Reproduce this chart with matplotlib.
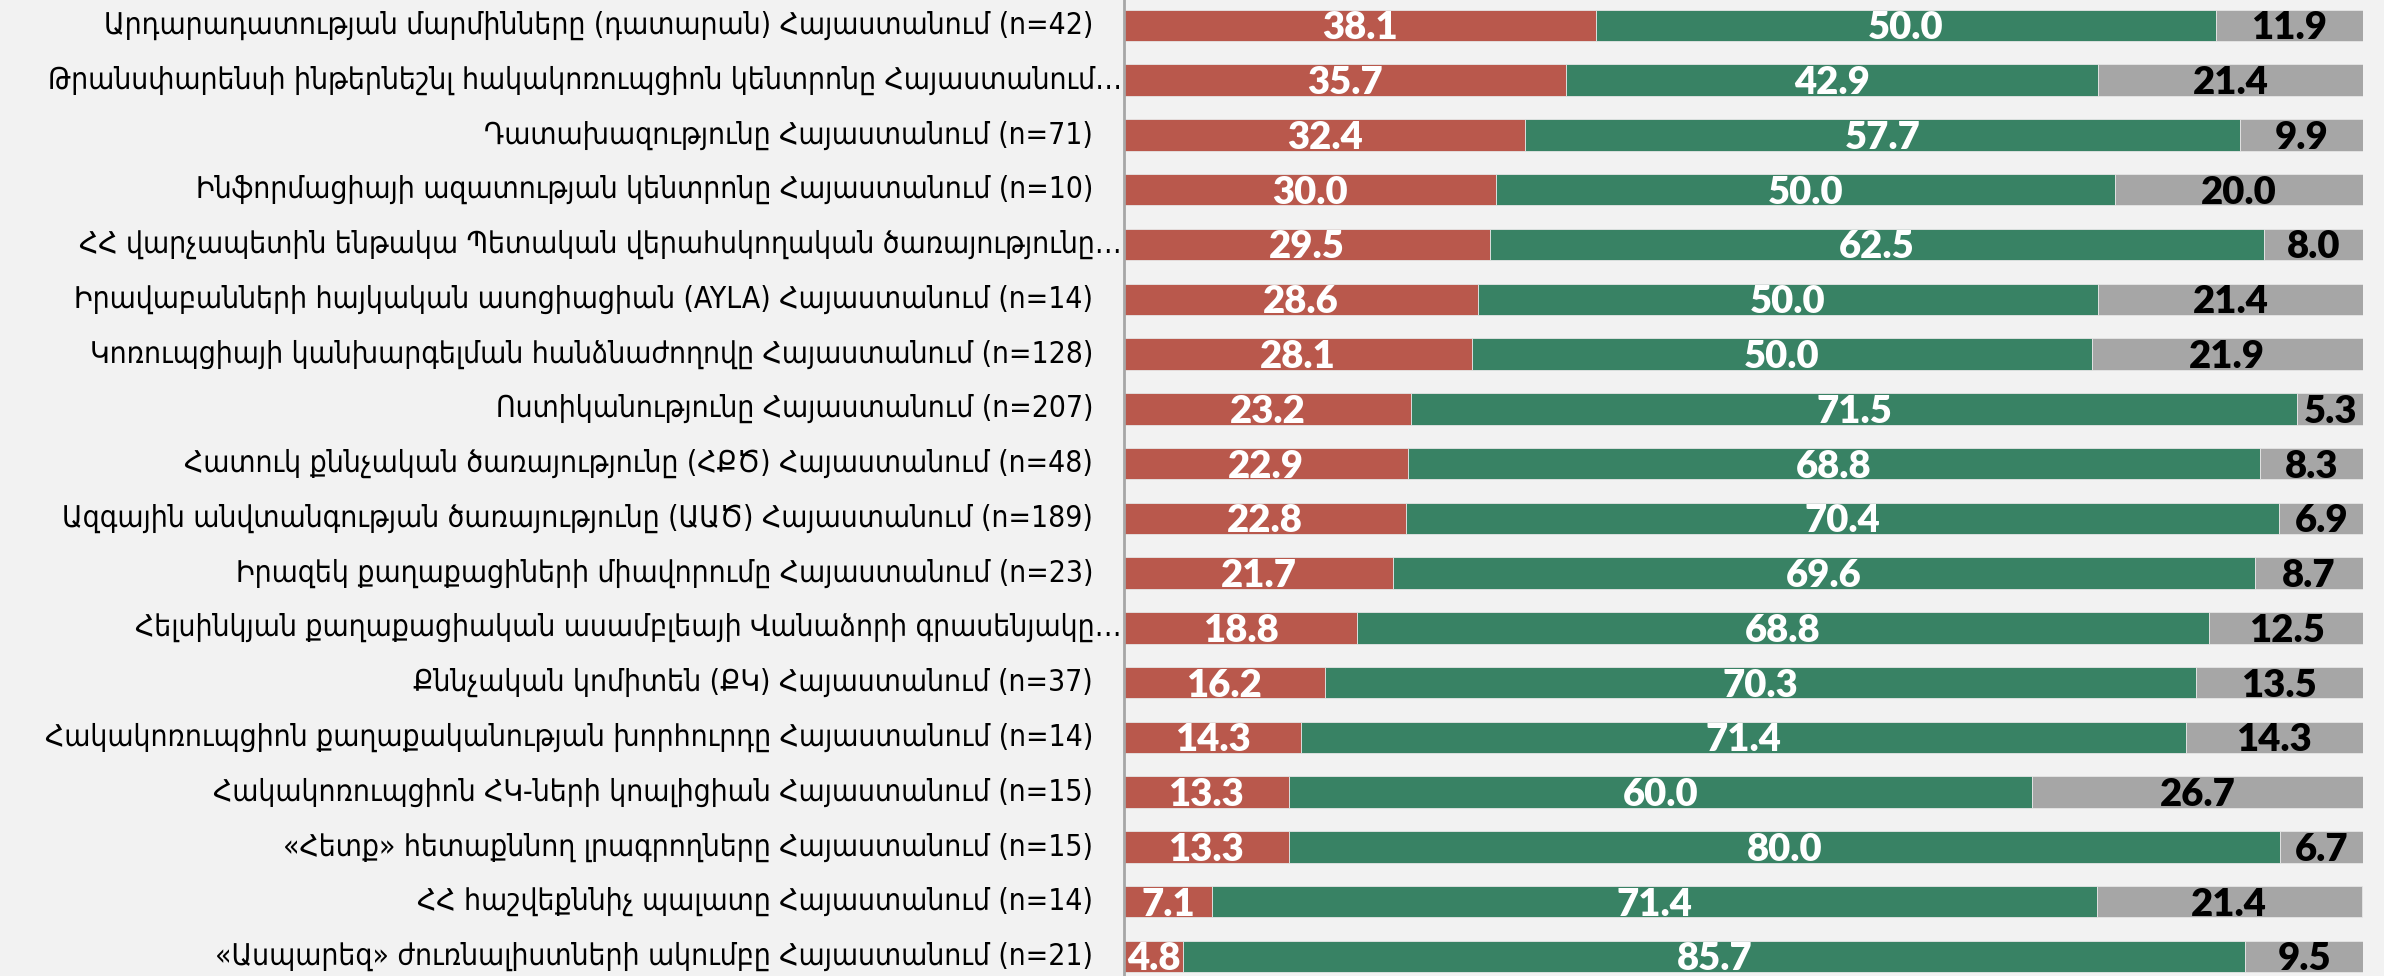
import matplotlib
matplotlib.use("Agg")
import matplotlib.pyplot as plt
import numpy as np

# Labels of the organisations (top to bottom)
labels = [
    "Արդարադատության մարմինները (դատարան) Հայաստանում (n=42)",
    "Թրանսփարենսի ինթերնեշնլ հակակոռուպցիոն կենտրոնը Հայաստանում…",
    "Դատախազությունը Հայաստանում (n=71)",
    "Ինֆորմացիայի ազատության կենտրոնը Հայաստանում (n=10)",
    "ՀՀ վարչապետին ենթակա Պետական վերահսկողական ծառայությունը…",
    "Իրավաբանների հայկական ասոցիացիան (AYLA) Հայաստանում (n=14)",
    "Կոռուպցիայի կանխարգելման հանձնաժողովը Հայաստանում (n=128)",
    "Ոստիկանությունը Հայաստանում (n=207)",
    "Հատուկ քննչական ծառայությունը (ՀՔԾ) Հայաստանում (n=48)",
    "Ազգային անվտանգության ծառայությունը (ԱԱԾ) Հայաստանում (n=189)",
    "Իրազեկ քաղաքացիների միավորումը Հայաստանում (n=23)",
    "Հելսինկյան քաղաքացիական ասամբլեայի Վանաձորի գրասենյակը…",
    "Քննչական կոմիտեն (ՔԿ) Հայաստանում (n=37)",
    "Հակակոռուպցիոն քաղաքականության խորհուրդը Հայաստանում (n=14)",
    "Հակակոռուպցիոն ՀԿ-ների կոալիցիան Հայաստանում (n=15)",
    "«Հետք» հետաքննող լրագրողները Հայաստանում (n=15)",
    "ՀՀ հաշվեքննիչ պալատը Հայաստանում (n=14)",
    "«Ասպարեզ» ժուռնալիստների ակումբը Հայաստանում (n=21)",
]

red_vals = [38.1, 35.7, 32.4, 30.0, 29.5, 28.6, 28.1, 23.2, 22.9, 22.8,
            21.7, 18.8, 16.2, 14.3, 13.3, 13.3, 7.1, 4.8]
green_vals = [50.0, 42.9, 57.7, 50.0, 62.5, 50.0, 50.0, 71.5, 68.8, 70.4,
              69.6, 68.8, 70.3, 71.4, 60.0, 80.0, 71.4, 85.7]
grey_vals = [11.9, 21.4, 9.9, 20.0, 8.0, 21.4, 21.9, 5.3, 8.3, 6.9,
             8.7, 12.5, 13.5, 14.3, 26.7, 6.7, 21.4, 9.5]

RED = "#B9584C"
GREEN = "#388264"
GREY = "#A6A6A6"
BG = "#F2F2F2"

fig = plt.figure(figsize=(23.84, 9.76), dpi=100, facecolor=BG)
ax = fig.add_axes([1124 / 2384, -0.008, (2363 - 1124) / 2384, 1.01])
ax.set_facecolor(BG)

y = np.arange(len(labels))
red = np.array(red_vals)
green = np.array(green_vals)
grey = np.array(grey_vals)

h = 0.575
ax.barh(y, red, height=h, color=RED, edgecolor="#E6E6E6", linewidth=0.6)
ax.barh(y, green, left=red, height=h, color=GREEN, edgecolor="#E6E6E6", linewidth=0.6)
ax.barh(y, grey, left=red + green, height=h, color=GREY, edgecolor="#E6E6E6", linewidth=0.6)

ax.set_xlim(0, 100)
ax.set_ylim(len(labels) - 0.5, -0.5)

vfont = dict(family="Lato", weight="heavy", fontsize=27.5)
for i in range(len(labels)):
    ax.text(red[i] / 2, y[i], f"{red[i]:.1f}", ha="center", va="center_baseline", color="white", **vfont)
    ax.text(red[i] + green[i] / 2, y[i], f"{green[i]:.1f}", ha="center", va="center_baseline", color="white", **vfont)
    ax.text(red[i] + green[i] + grey[i] / 2, y[i], f"{grey[i]:.1f}", ha="center", va="center_baseline", color="black", **vfont)

# category labels, drawn by hand so truncated ones can sit closer to the axis
ax.set_yticks([])
ax.set_xticks([])
for i, lab in enumerate(labels):
    xoff = -2 if lab.endswith("…") else -31
    ax.annotate(lab, xy=(0, y[i]), xycoords=("axes fraction", "data"),
                xytext=(xoff, 0), textcoords="offset pixels",
                ha="right", va="center", fontsize=21.5, color="black",
                family="DejaVu Sans", fontstretch="condensed")

for s in ["top", "right", "bottom"]:
    ax.spines[s].set_visible(False)
ax.spines["left"].set_color("#A6A6A6")
ax.spines["left"].set_linewidth(2)

fig.savefig("out.png", dpi=100, facecolor=BG)
